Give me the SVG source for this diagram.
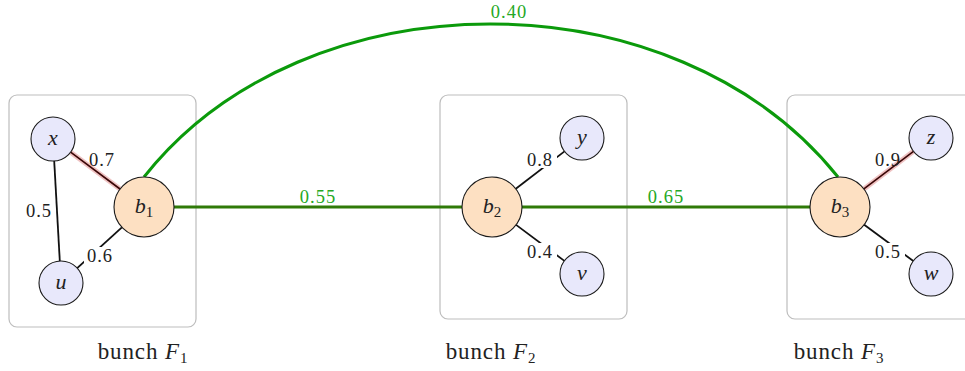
<svg xmlns="http://www.w3.org/2000/svg" width="965" height="371" viewBox="0 0 965 371">
<style>
.box{fill:none;stroke:#bdbdbd;stroke-width:1.2}
.leaf{fill:#e8e8fb;stroke:#1a1a1a;stroke-width:1.1}
.hub{fill:#fde0c2;stroke:#1a1a1a;stroke-width:1.1}
.nl{font-family:"Liberation Serif",serif;font-style:italic;font-size:22px;fill:#222;text-anchor:middle}
.sub{font-style:normal;font-size:15px}
.e{stroke:#111;stroke-width:1.8;fill:none}
.halo{stroke:#efc2c2;stroke-width:5;fill:none}
.ed{stroke:#3a0606;stroke-width:1.6;fill:none}
.g{stroke:#2f7a08;stroke-width:3;fill:none}
.arc{stroke:#0b9a0b;stroke-width:3;fill:none}
.lab{font-family:"Liberation Serif",serif;font-size:18.5px;fill:#222;text-anchor:middle;letter-spacing:1px}
.gl{font-family:"Liberation Serif",serif;font-size:18.5px;fill:#25a825;text-anchor:middle;letter-spacing:1px}
.cap{font-family:"Liberation Serif",serif;font-size:23px;fill:#222;text-anchor:middle;letter-spacing:0.9px}
.bg{fill:#fff}
</style>
<g id="bunch1"><rect class="box" x="9" y="95" width="187" height="232" rx="8"/><text class="cap" x="143" y="359">bunch <tspan font-style="italic">F</tspan><tspan font-size="15" dy="4">1</tspan></text></g>
<g id="bunch2"><rect class="box" x="440" y="95" width="187" height="224" rx="8"/><text class="cap" x="491" y="359">bunch <tspan font-style="italic">F</tspan><tspan font-size="15" dy="4">2</tspan></text></g>
<g id="bunch3"><rect class="box" x="787" y="95" width="200" height="224" rx="8"/><text class="cap" x="839" y="359">bunch <tspan font-style="italic">F</tspan><tspan font-size="15" dy="4">3</tspan></text></g>
<g id="connectors">
<line class="e" x1="54.2" y1="161" x2="59.8" y2="261"/>
<text class="lab" x="39" y="217">0.5</text>
<line class="halo" x1="120" y1="189" x2="70.6" y2="152.2"/>
<line class="ed" x1="120" y1="189" x2="70.6" y2="152.2"/>
<text class="lab" x="102" y="166">0.7</text>
<line class="e" x1="121.9" y1="227.3" x2="77.2" y2="268.1"/>
<rect class="bg" x="84" y="247" width="33" height="17"/>
<text class="lab" x="100" y="262">0.6</text>
<line class="e" x1="515.8" y1="188.8" x2="564.5" y2="151.4"/>
<rect class="bg" x="524" y="151" width="33" height="17"/>
<text class="lab" x="540" y="166">0.8</text>
<line class="e" x1="516.1" y1="224.9" x2="564.4" y2="260.9"/>
<rect class="bg" x="524" y="243" width="33" height="17"/>
<text class="lab" x="540" y="258">0.4</text>
<line class="halo" x1="863.9" y1="188.9" x2="913.5" y2="151.3"/>
<line class="ed" x1="863.9" y1="188.9" x2="913.5" y2="151.3"/>
<text class="lab" x="888" y="166">0.9</text>
<line class="e" x1="864.2" y1="224.8" x2="913.3" y2="261"/>
<rect class="bg" x="872" y="243" width="33" height="17"/>
<text class="lab" x="888" y="258">0.5</text>
<line class="g" x1="174" y1="207" x2="462" y2="207"/>
<text class="gl" x="318" y="203">0.55</text>
<line class="g" x1="522" y1="207" x2="810" y2="207"/>
<text class="gl" x="666" y="203">0.65</text>
<path class="arc" d="M144,177 C305,-27 675,-27 838,177"/>
<text class="gl" x="509" y="18">0.40</text>
</g>
<g id="x"><circle class="leaf" cx="53" cy="139" r="22"/><text class="nl" x="53" y="145">x</text></g>
<g id="u"><circle class="leaf" cx="61" cy="283" r="22"/><text class="nl" x="61" y="289">u</text></g>
<g id="b1"><circle class="hub" cx="144" cy="207" r="30"/><text class="nl" x="144" y="213">b<tspan class="sub" dy="4">1</tspan></text></g>
<g id="y"><circle class="leaf" cx="582" cy="138" r="22"/><text class="nl" x="582" y="144">y</text></g>
<g id="v"><circle class="leaf" cx="582" cy="274" r="22"/><text class="nl" x="582" y="280">v</text></g>
<g id="b2"><circle class="hub" cx="492" cy="207" r="30"/><text class="nl" x="492" y="213">b<tspan class="sub" dy="4">2</tspan></text></g>
<g id="z"><circle class="leaf" cx="931" cy="138" r="22"/><text class="nl" x="931" y="144">z</text></g>
<g id="w"><circle class="leaf" cx="931" cy="274" r="22"/><text class="nl" x="931" y="280">w</text></g>
<g id="b3"><circle class="hub" cx="840" cy="207" r="30"/><text class="nl" x="840" y="213">b<tspan class="sub" dy="4">3</tspan></text></g>
</svg>
